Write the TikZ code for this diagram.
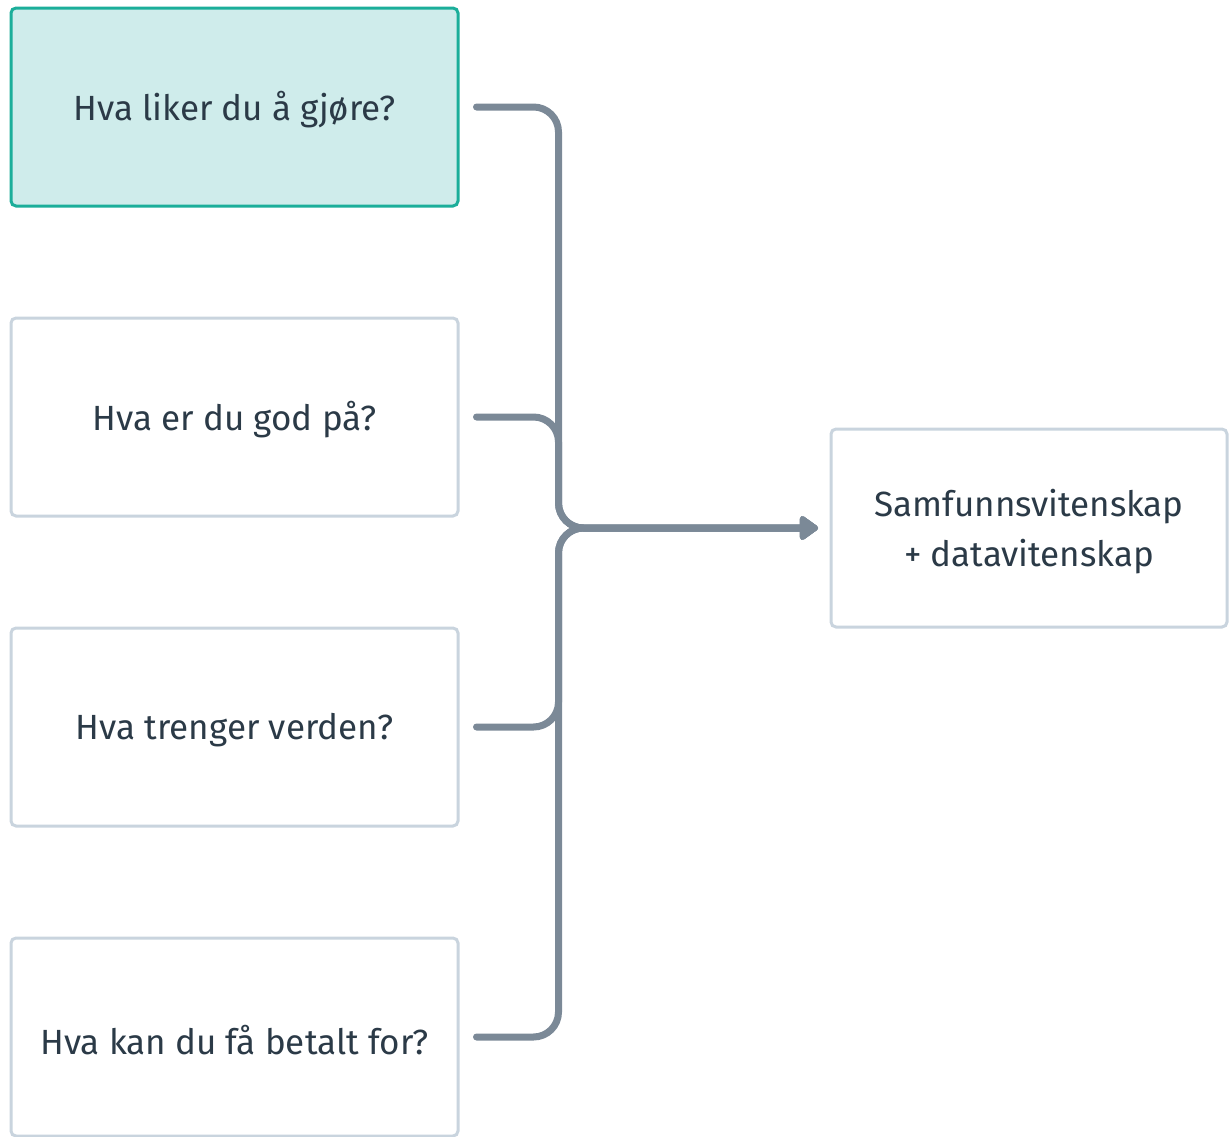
\documentclass[tikz,border=0pt]{standalone}
\usepackage{fontspec}
\setmainfont{Fira Sans}
\usetikzlibrary{arrows.meta}
\definecolor{teal}{HTML}{1BAE9A}
\definecolor{tealfill}{HTML}{CFECEB}
\definecolor{boxline}{HTML}{C9D4DE}
\definecolor{conn}{HTML}{7B8997}
\definecolor{txt}{HTML}{2B3A47}
\tikzset{
  qbox/.style={draw=boxline, line width=3pt, rounded corners=5pt, fill=white,
    minimum width=447pt, minimum height=198pt, inner sep=0pt},
  hilite/.style={qbox, draw=teal, fill=tealfill},
  outbox/.style={qbox, minimum width=396pt},
  qtext/.style={text=txt, font=\fontsize{35}{50}\selectfont, align=center, inner sep=0pt},
  link/.style={draw=conn, line width=7pt, line cap=round, rounded corners=25pt,
    -{Triangle[length=20pt,width=27pt,round]}}
}
\begin{document}
\begin{tikzpicture}[x=1pt,y=-1pt]
\useasboundingbox (0,0) rectangle (1229,1136);
\node[hilite] (b1) at (234.5,107) {};
\node[qbox]   (b2) at (234.5,417) {};
\node[qbox]   (b3) at (234.5,727) {};
\node[qbox]   (b4) at (234.5,1037) {};
\node[outbox] (out) at (1029,528) {};
\node[qtext] (t1) at ([yshift=-3pt]b1.center) {Hva liker du å gjøre?};
\node[qtext] (t2) at ([yshift=-3pt]b2.center) {Hva er du god på?};
\node[qtext] (t3) at ([yshift=-3pt]b3.center) {Hva trenger verden?};
\node[qtext] (t4) at ([yshift=-3pt]b4.center) {Hva kan du få betalt for?};
\node[qtext] (t5) at ([yshift=-4pt]out.center) {Samfunnsvitenskap\\+ datavitenskap};
\coordinate (tip) at (818,528);
\foreach \b in {b1,b2,b3,b4}{
  \draw[link] ([xshift=17pt]\b.east) -- ++(82,0) |- (tip);
}
\end{tikzpicture}
\end{document}
